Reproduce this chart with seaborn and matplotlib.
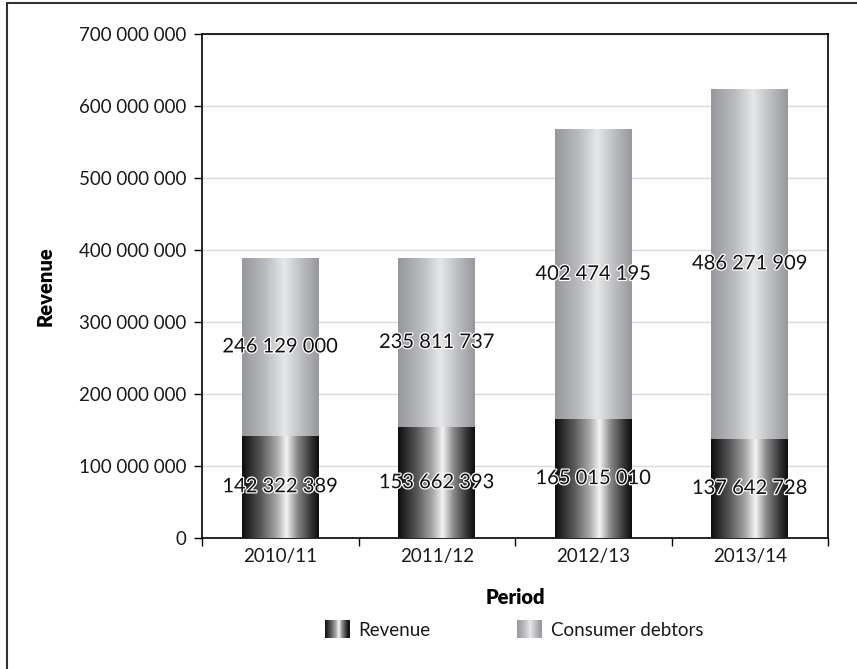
import numpy as np
import pandas as pd
import matplotlib
matplotlib.use('Agg')
import matplotlib.pyplot as plt
import seaborn as sns
import matplotlib.patheffects as pe
from matplotlib.colors import LinearSegmentedColormap
from matplotlib.legend_handler import HandlerBase
from matplotlib.patches import Rectangle
from matplotlib.ticker import FuncFormatter, FixedLocator

# data
periods = ['2010/11', '2011/12', '2012/13', '2013/14']
revenue = [142322389, 153662393, 165015010, 137642728]
debtors = [246129000, 235811737, 402474195, 486271909]

df = pd.DataFrame({'period': periods, 'revenue': revenue, 'debtors': debtors})
df['total'] = df['revenue'] + df['debtors']

sns.set_style('white')
plt.rcParams['font.family'] = ['Lato', 'DejaVu Sans']
plt.rcParams['text.color'] = '#1a1a1a'

# gradient colour maps (horizontal shading of the bars)
cm_rev = LinearSegmentedColormap.from_list('rev', [
    (0.0, '#0d0d0d'), (0.25, '#5a5a5a'), (0.45, '#a8a8a8'), (0.58, '#f4f4f4'),
    (0.72, '#8a8a8a'), (0.9, '#333333'), (1.0, '#0d0d0d')])
cm_deb = LinearSegmentedColormap.from_list('deb', [
    (0.0, '#96989c'), (0.3, '#b8babd'), (0.55, '#e6e7e9'), (0.75, '#c0c2c5'),
    (1.0, '#96989c')])

fig = plt.figure(figsize=(8.57, 6.69), dpi=100)
ax = fig.add_axes([202/857, 1-538/669, (828-202)/857, (538-34)/669])

# stacked: totals first, revenue on top of them
sns.barplot(data=df, x='period', y='total', color='#bbbbbb', width=0.49, ax=ax, zorder=2)
n_tot = len(ax.patches)
sns.barplot(data=df, x='period', y='revenue', color='#555555', width=0.49, ax=ax, zorder=3)

grad = np.linspace(0, 1, 256).reshape(1, -1)
for i, p in enumerate(ax.patches):
    cmap = cm_deb if i < n_tot else cm_rev
    x0, y0 = p.get_x(), p.get_y()
    w, h = p.get_width(), p.get_height()
    p.set_facecolor('none')
    p.set_edgecolor('none')
    im = ax.imshow(grad, cmap=cmap, aspect='auto', extent=(x0, x0 + w, y0, y0 + h),
                   zorder=p.get_zorder(), interpolation='bilinear')
    im.set_clip_path(p)

ax.set_xlim(-0.5, 3.5)
ax.set_ylim(0, 700000000)

# value labels
stroke = [pe.withStroke(linewidth=1.8, foreground='white')]
fmt = lambda v: f'{v:,.0f}'.replace(',', ' ')
for i, row in df.iterrows():
    ax.text(i, row['revenue'] / 2, fmt(row['revenue']), ha='center', va='center',
            fontsize=14.5, color='#111111', path_effects=stroke, zorder=5)
    ax.text(i, row['revenue'] + row['debtors'] / 2, fmt(row['debtors']), ha='center',
            va='center', fontsize=14.5, color='#111111', path_effects=stroke, zorder=5)

# axes styling
ax.yaxis.set_major_locator(FixedLocator(np.arange(0, 700000001, 100000000)))
ax.yaxis.set_major_formatter(FuncFormatter(lambda v, _: fmt(v)))
ax.grid(axis='y', color='#d9d9d9', linewidth=1, zorder=0)
ax.set_axisbelow(True)
ax.xaxis.set_major_locator(FixedLocator([-0.5, 0.5, 1.5, 2.5, 3.5]))
ax.xaxis.set_major_formatter(FuncFormatter(lambda v, _: ''))
ax.xaxis.set_minor_locator(FixedLocator([0, 1, 2, 3]))
ax.set_xticklabels(periods, minor=True)
ax.tick_params(axis='x', which='major', direction='out', length=6, width=1, color='black', bottom=True)
ax.tick_params(axis='x', which='minor', length=0, labelsize=13.5, pad=7, labelcolor='#1a1a1a')
ax.tick_params(axis='y', direction='out', length=6, width=1, color='black', left=True,
               labelsize=13.5, pad=5, labelcolor='#1a1a1a')
for s in ax.spines.values():
    s.set_color('black')
    s.set_linewidth(1.2)

ax.set_xlabel('Period', fontsize=14.5, fontweight='heavy', color='black')
ax.set_ylabel('Revenue', fontsize=14.5, fontweight='heavy', color='black')
ax.xaxis.set_label_coords(0.5, (538 - 598) / 504, transform=ax.transAxes)
ax.yaxis.set_label_coords((45 - 202) / 626, 0.5, transform=ax.transAxes)
ax.xaxis.label.set_va('center')
ax.yaxis.label.set_va('center')


# legend with gradient swatches
class GradHandler(HandlerBase):
    def __init__(self, cmap):
        super().__init__()
        self.cmap = cmap

    def create_artists(self, legend, orig_handle, xdescent, ydescent, width, height, fontsize, trans):
        arts = []
        n = 24
        for k in range(n):
            r = Rectangle((-xdescent + width * k / n, -ydescent - 2), width / n + 0.3, height + 4,
                          facecolor=self.cmap((k + 0.5) / n), edgecolor='none', transform=trans)
            arts.append(r)
        return arts


h_rev = Rectangle((0, 0), 1, 1)
h_deb = Rectangle((0, 0), 1, 1)
fig.legend([h_rev, h_deb], ['Revenue', 'Consumer debtors'],
           handler_map={h_rev: GradHandler(cm_rev), h_deb: GradHandler(cm_deb)},
           loc='center', bbox_to_anchor=(514/857, 1-630/669), ncol=2, frameon=False,
           handlelength=1.3, handletextpad=0.5, columnspacing=4.6,
           prop={'size': 13.5})

# outer border
fig.add_artist(Rectangle((7/857, -0.05), 1.0, 1 - 3/669 + 0.05, transform=fig.transFigure,
                         facecolor='none', edgecolor='#333333', linewidth=1.5))

fig.savefig('out.png', dpi=100)
